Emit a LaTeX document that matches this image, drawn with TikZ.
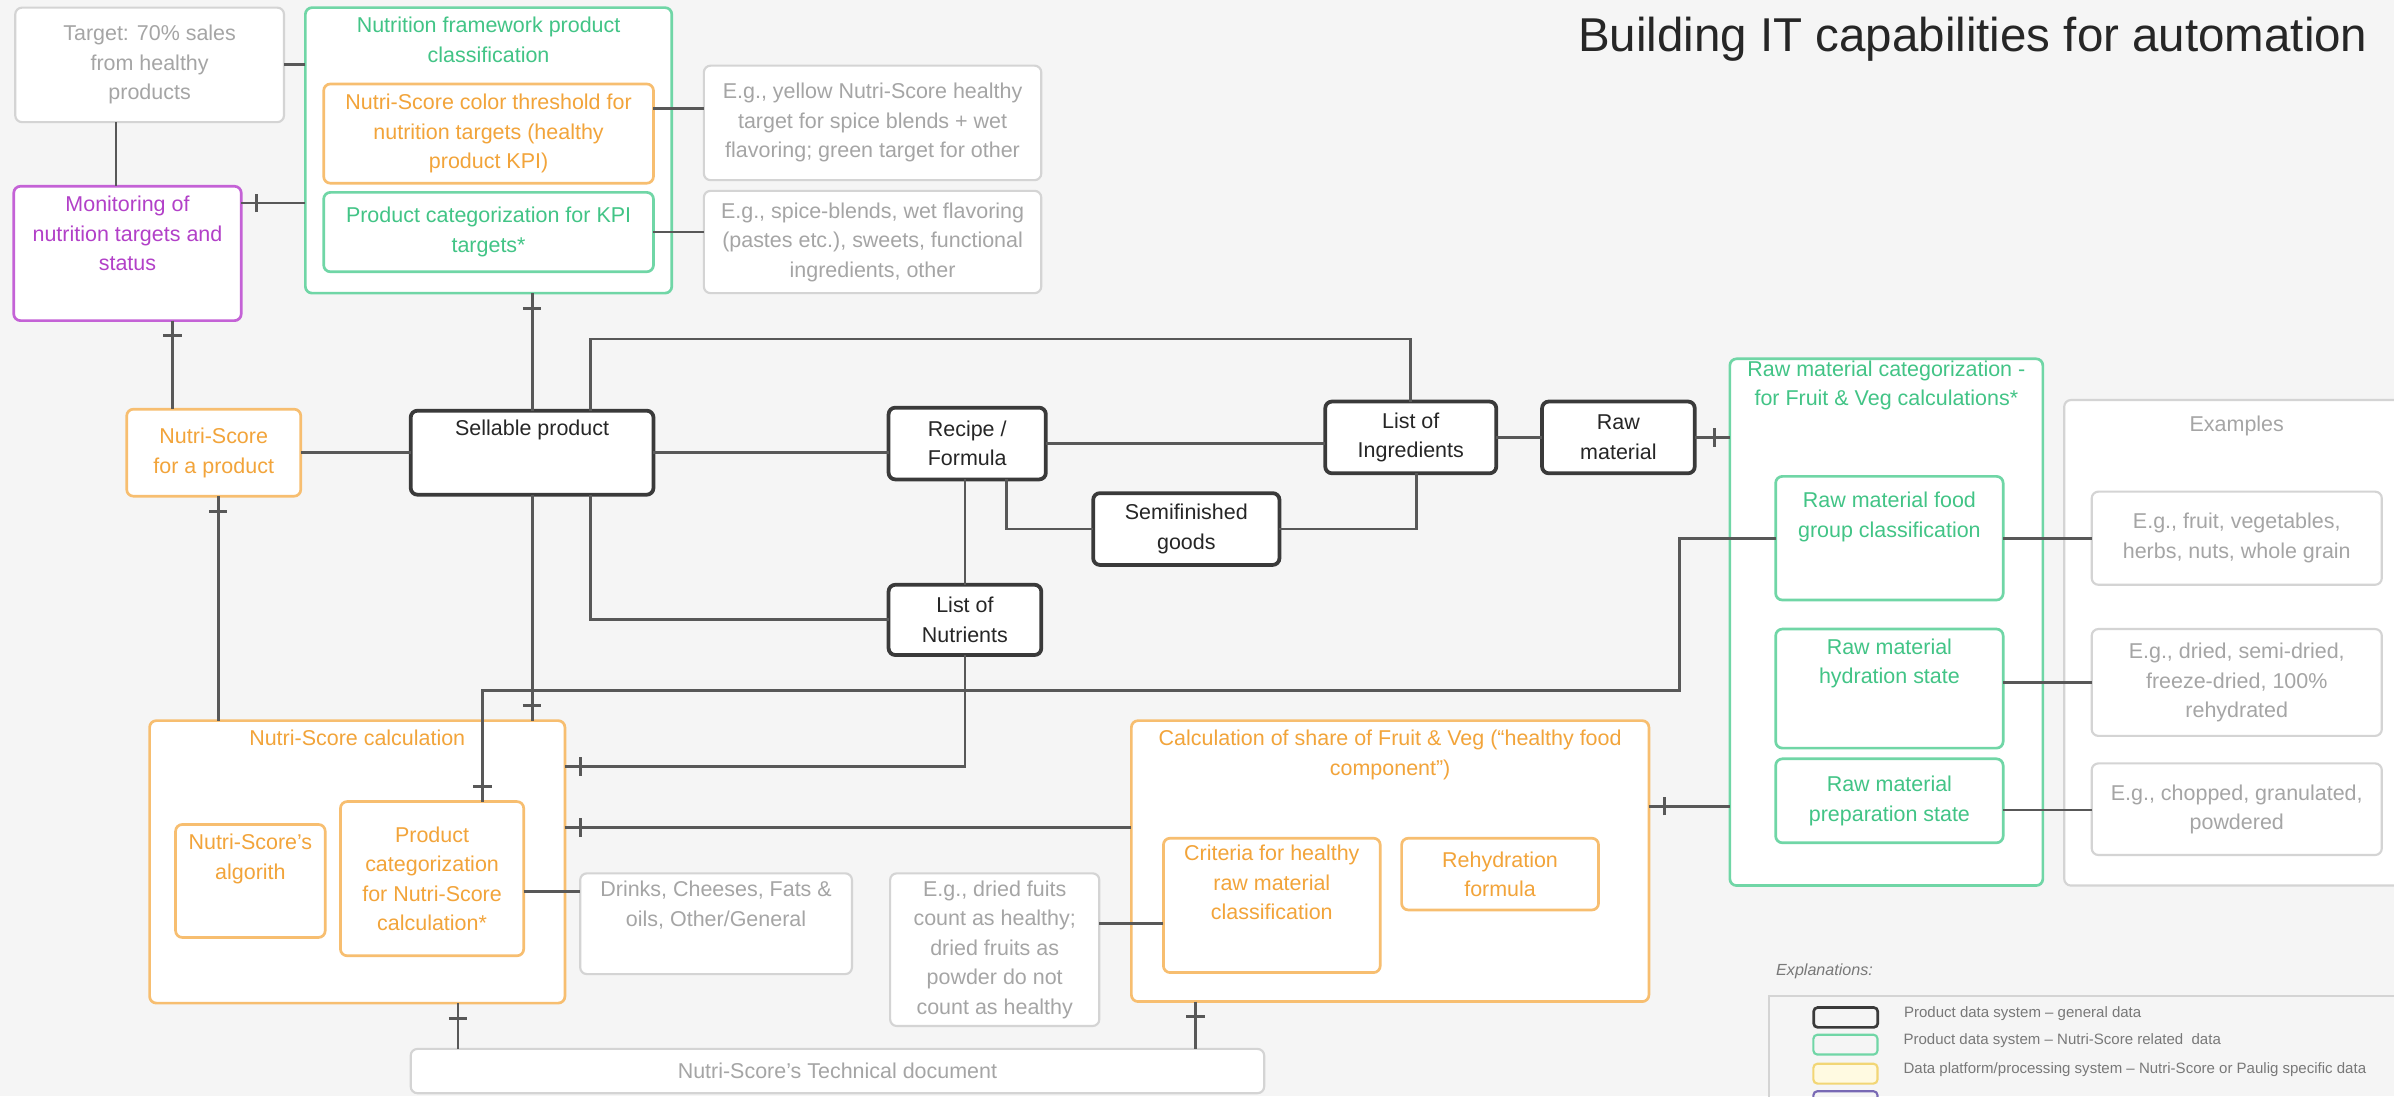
\documentclass[tikz,border=0pt]{standalone}
\usepackage{fontspec}
\setmainfont{Liberation Sans}
\usepackage{tikz}
\usetikzlibrary{positioning,calc,decorations.markings}
\definecolor{bg}{RGB}{245,245,245}
\definecolor{darkline}{RGB}{58,58,58}
\definecolor{darktext}{RGB}{38,38,38}
\definecolor{wiregray}{RGB}{88,88,88}
\definecolor{greenline}{RGB}{112,214,166}
\definecolor{greentext}{RGB}{66,196,134}
\definecolor{orangeline}{RGB}{247,190,112}
\definecolor{orangetext}{RGB}{242,164,58}
\definecolor{purpleline}{RGB}{196,98,214}
\definecolor{purpletext}{RGB}{178,64,200}
\definecolor{grayline}{RGB}{212,212,212}
\definecolor{graytext}{RGB}{165,165,165}
\definecolor{legendtext}{RGB}{120,120,120}
\definecolor{yellowline}{RGB}{242,214,117}
\definecolor{yellowfill}{RGB}{255,250,225}
\definecolor{legendpurple}{RGB}{120,105,180}
\newcommand{\diagfont}{\fontsize{8}{11}\selectfont}
\newcommand{\legendfont}{\fontsize{5.6}{6.5}\selectfont}
\tikzset{
    box/.style={rounded corners=2.5pt, fill=white, align=center, font=\diagfont, inner sep=2pt, outer sep=0pt, anchor=north west},
    dark/.style={box, draw=darkline, line width=1.4pt, text=darktext},
    grn/.style={box, draw=greenline, line width=1pt, text=greentext},
    orng/.style={box, draw=orangeline, line width=1pt, text=orangetext},
    purp/.style={box, draw=purpleline, line width=1pt, text=purpletext},
    note/.style={box, draw=grayline, line width=0.8pt, text=graytext},
    toptext/.style={anchor=north, yshift=-0.5mm, align=center, font=\diagfont, inner sep=2pt, text=#1},
    sz/.style 2 args={minimum width=#1*0.2mm, minimum height=#2*0.2mm},
    wire/.style={draw=wiregray, line width=1.05pt},
    tick start/.style={postaction={decorate, decoration={markings, mark=at position 2mm with {\draw[wire] (0,-1.2mm) -- (0,1.2mm);}}}},
    tick end/.style={postaction={decorate, decoration={markings, mark=at position -2mm with {\draw[wire] (0,-1.2mm) -- (0,1.2mm);}}}},
    swatch/.style={anchor=north west, rounded corners=1.5pt, inner sep=0pt, minimum width=42*0.2mm, minimum height=13*0.2mm, line width=0.8pt},
    legtext/.style={font=\legendfont, text=legendtext, inner sep=0pt}
}

\begin{document}
\begin{tikzpicture}[x=0.2mm,y=-0.2mm]
\fill[bg] (0,0) rectangle (1568,718);
\useasboundingbox (0,0) rectangle (1568,718);
\clip (0,0) rectangle (1568,718);

\node[anchor=base east, inner sep=0pt, font=\fontsize{17.7}{20}\selectfont, text=darktext] (title) at (1551,34) {Building IT capabilities for automation};

\node[note, sz={176}{75}] (target) at (10,5) {Target: 70\% sales\\from healthy\\products};
\node[grn, sz={240}{187}, label={[toptext=greentext]north:{Nutrition framework product\\classification}}] (nfw) at (200,5) {};
\node[orng, sz={216}{65}] (thr) at (212,55) {Nutri-Score color threshold for\\nutrition targets (healthy\\product KPI)};
\node[grn, sz={216}{52}] (kpi) at (212,126) {Product categorization for KPI\\targets*};
\node[note, sz={221}{75}] (egthr) at (461,43) {E.g., yellow Nutri-Score healthy\\target for spice blends + wet\\flavoring; green target for other};
\node[note, sz={221}{67}] (egkpi) at (461,125) {E.g., spice-blends, wet flavoring\\(pastes etc.), sweets, functional\\ingredients, other};
\node[purp, sz={149}{88}, label={[toptext=purpletext]north:{Monitoring of\\nutrition targets and\\status}}] (mon) at (9,122) {};

\node[orng, sz={114}{57}] (nsp) at (83,268) {Nutri-Score\\for a product};
\node[dark, sz={159}{55}, label={[toptext=darktext]north:Sellable product}] (sell) at (269,269) {};
\node[dark, sz={103}{47}] (rec) at (582,267) {Recipe /\\Formula};
\node[dark, sz={122}{47}] (semi) at (716,323) {Semifinished\\goods};
\node[dark, sz={112}{47}] (ing) at (868,263) {List of\\Ingredients};
\node[dark, sz={100}{47}] (raw) at (1010,263) {Raw\\material};
\node[dark, sz={100}{46}] (nutr) at (582,383) {List of\\Nutrients};

\node[grn, sz={205}{345}, label={[toptext=greentext, yshift=1mm]north:{Raw material categorization -\\for Fruit \& Veg calculations*}}] (rmc) at (1133,235) {};
\node[grn, sz={149}{81}, label={[toptext=greentext, yshift=-0.8mm]north:{Raw material food\\group classification}}] (fg) at (1163,312) {};
\node[grn, sz={149}{78}, label={[toptext=greentext]north:{Raw material\\hydration state}}] (hyd) at (1163,412) {};
\node[grn, sz={149}{55}] (prep) at (1163,497) {Raw material\\preparation state};

\node[note, sz={226}{318}, label={[toptext=graytext, yshift=-0.8mm]north:Examples}] (examples) at (1352,262) {};
\node[note, sz={190}{61}] (egfg) at (1370,322) {E.g., fruit, vegetables,\\herbs, nuts, whole grain};
\node[note, sz={190}{70}] (eghyd) at (1370,412) {E.g., dried, semi-dried,\\freeze-dried, 100\%\\rehydrated};
\node[note, sz={190}{60}] (egprep) at (1370,500) {E.g., chopped, granulated,\\powdered};

\node[orng, sz={272}{185}, label={[toptext=orangetext]north:Nutri-Score calculation}] (nsc) at (98,472) {};
\node[orng, sz={98}{74}, label={[toptext=orangetext]north:{Nutri-Score's\\algorith}}] (alg) at (115,540) {};
\node[orng, sz={120}{101}] (pcns) at (223,525) {Product\\categorization\\for Nutri-Score\\calculation*};
\node[note, sz={178}{66}] (drk) at (380,572) {Drinks, Cheeses, Fats \&\\oils, Other/General\\[4pt]};
\node[note, sz={137}{100}] (egdf) at (583,572) {E.g., dried fuits\\count as healthy;\\dried fruits as\\powder do not\\count as healthy};

\node[orng, sz={339}{184}, label={[toptext=orangetext]north:{Calculation of share of Fruit \& Veg (``healthy food\\component'')}}] (fv) at (741,472) {};
\node[orng, sz={142}{88}] (crit) at (762,549) {Criteria for healthy\\raw material\\classification\\[6pt]};
\node[orng, sz={129}{47}] (rehyd) at (918,549) {Rehydration\\formula};

\node[note, sz={559}{29}] (tech) at (269,687) {Nutri-Score's Technical document};

\node[anchor=west, inner sep=0pt, font=\fontsize{6}{7}\selectfont\itshape, text=legendtext] (explain) at (1163,636) {Explanations:};
\node[draw=grayline, line width=0.6pt, anchor=north west, sz={450}{100}] (legend) at (1158,652) {};
\node[swatch, draw=darkline, line width=1pt, fill=bg] (swdark) at (1187,659) {};
\node[swatch, draw=greenline, fill=bg] (swgreen) at (1187,677) {};
\node[swatch, draw=yellowline, fill=yellowfill] (swyellow) at (1187,696) {};
\node[swatch, draw=legendpurple, fill=bg] (swpurple) at (1187,714) {};
\node[legtext, anchor=west, right=3.2mm of swdark, yshift=0.5mm] (kdark) {Product data system -- general data};
\node[legtext, anchor=west, right=3.2mm of swgreen, yshift=0.5mm] (kgreen) {Product data system -- Nutri-Score related~ data};
\node[legtext, anchor=west, right=3.2mm of swyellow, yshift=0.5mm] (kyellow) {Data platform/processing system -- Nutri-Score or Paulig specific data};

\draw[wire] (target.east) -- (target.east -| nfw.west);
\draw[wire] ([xshift=-4.4mm]target.south) -- ([xshift=-4.4mm]target.south |- mon.north);
\draw[wire, tick start] ([yshift=-2.2mm]mon.north east) -- ([yshift=-2.2mm]mon.north east -| nfw.west);
\draw[wire] ([yshift=-3.2mm]thr.north east) -- ([yshift=-3.2mm]thr.north east -| egthr.west);
\draw[wire] (kpi.east) -- (kpi.east -| egkpi.west);
\draw[wire, tick start] (sell.north |- nfw.south) -- (sell.north);
\draw[wire, tick start] ([xshift=5.9mm]mon.south) -- ([xshift=5.9mm]mon.south |- nsp.north);
\draw[wire] (nsp.east) -- (nsp.east -| sell.west);
\draw[wire] (sell.east) -- (sell.east -| rec.west);
\draw[wire] ([xshift=7.7mm]sell.north) -- ++(0,-47) -| (ing.north);
\draw[wire] ([xshift=7.7mm]sell.south) |- (nutr.west);
\draw[wire, tick end] (sell.south) -- (sell.south |- nsc.north);
\draw[wire, tick start] ([xshift=0.6mm]nsp.south) -- ([xshift=0.6mm]nsp.south |- nsc.north);
\draw[wire] (rec.east) -- (rec.east -| ing.west);
\draw[wire] ([xshift=5.1mm]rec.south) |- (semi.west);
\draw[wire] (semi.east) -| ([xshift=0.8mm]ing.south);
\draw[wire] (nutr.north |- rec.south) -- (nutr.north);
\draw[wire, tick end] (nutr.south) |- ([yshift=-6mm]nsc.north east);
\draw[wire, tick end] (raw.east) -- (raw.east -| rmc.west);
\draw[wire] (ing.east) -- (raw.west);
\draw[wire, tick end] (fg.west) -- ++(-63,0) -- ++(0,100) -| ([xshift=6.6mm]pcns.north);
\draw[wire, tick start] ([yshift=-14mm]nsc.north east) -- ([yshift=-14mm]nsc.north east -| fv.west);
\draw[wire] ([yshift=-1.7mm]pcns.east) -- ([yshift=-1.7mm]pcns.east -| drk.west);
\draw[wire] ([yshift=-2.4mm]crit.west -| egdf.east) -- ([yshift=-2.4mm]crit.west);
\draw[wire, tick start] ([xshift=13.2mm]nsc.south) -- ([xshift=13.2mm]nsc.south |- tech.north);
\draw[wire, tick start] ([xshift=-25.5mm]fv.south) -- ([xshift=-25.5mm]fv.south |- tech.north);
\draw[wire, tick start] ([yshift=-11.2mm]fv.north east) -- ([yshift=-11.2mm]fv.north east -| rmc.west);
\draw[wire] (fg.east) -- (fg.east -| egfg.west);
\draw[wire] ([yshift=0.8mm]hyd.east) -- ([yshift=0.8mm]hyd.east -| eghyd.west);
\draw[wire] ([yshift=-1.2mm]prep.east) -- ([yshift=-1.2mm]prep.east -| egprep.west);
\end{tikzpicture}
\end{document}
